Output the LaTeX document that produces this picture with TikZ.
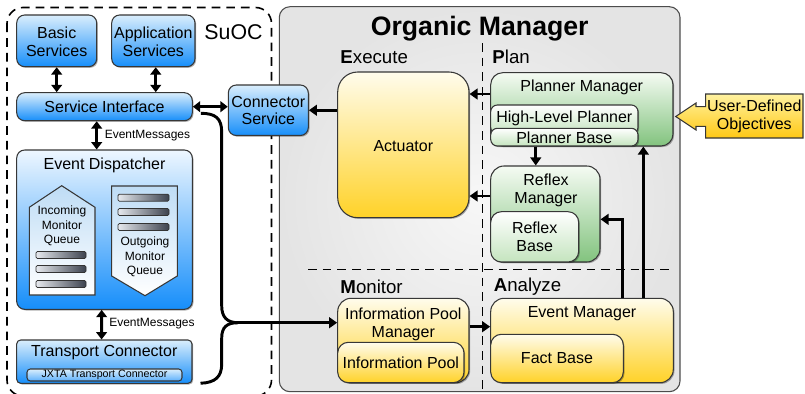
\documentclass[tikz,border=0pt]{standalone}
\usepackage{fontspec}
\setmainfont{Liberation Sans}
\usetikzlibrary{arrows.meta,fit,shadows}
\definecolor{bluetop}{RGB}{218,238,252}
\definecolor{bluebot}{RGB}{22,142,250}
\definecolor{edtop}{RGB}{238,247,255}
\definecolor{yeltop}{RGB}{255,252,236}
\definecolor{yelbot}{RGB}{255,210,40}
\definecolor{grntop}{RGB}{245,251,243}
\definecolor{grnbot}{RGB}{130,195,126}
\definecolor{grnlite}{RGB}{196,228,190}
\definecolor{edgec}{RGB}{55,55,55}
\definecolor{qtop}{RGB}{190,220,245}
\definecolor{bardark}{RGB}{60,66,78}
\definecolor{barlight}{RGB}{230,233,238}
\definecolor{bgin}{RGB}{247,247,247}
\definecolor{bgout}{RGB}{228,228,228}
\definecolor{udotop}{RGB}{255,242,160}
\definecolor{udobot}{RGB}{255,200,20}
\begin{document}
\begin{tikzpicture}[x=0.75pt,y=-0.75pt,
  box/.style={draw=edgec, line width=0.8pt, inner sep=0pt},
  shd/.style={drop shadow={shadow xshift=0.9pt,shadow yshift=-0.9pt,opacity=0.3,fill=black}},
  bluebox/.style={box, shd, top color=bluetop, bottom color=bluebot, rounded corners=6pt},
  edbox/.style={box, shd, top color=edtop, bottom color=bluebot, rounded corners=6pt},
  yelbox/.style={box, shd, top color=yeltop, bottom color=yelbot},
  grnbox/.style={box, shd, top color=grntop, bottom color=grnbot},
  ginbox/.style={box, shd, top color=white, bottom color=grnlite, rounded corners=5pt},
  tx/.style={font=\fontsize{12}{13.3}\selectfont, inner sep=0pt, align=center},
  small/.style={font=\fontsize{9}{10.5}\selectfont, inner sep=0pt},
  qtx/.style={font=\fontsize{9}{10.7}\selectfont, inner sep=0pt, align=center},
  lbl/.style={font=\fontsize{14}{16}\selectfont, inner sep=0pt, anchor=west},
  arr/.style={line width=2.2pt, -{Triangle[length=6pt,width=8pt]}},
  dbl/.style={line width=2.2pt, {Triangle[length=5.5pt,width=8pt]}-{Triangle[length=5.5pt,width=8pt]}},
  dsh/.style={line width=1.1pt, dash pattern=on 6.5pt off 4.5pt},
  queue/.style={draw=edgec, line width=0.8pt, top color=qtop, bottom color=white},
  qbar/.style={draw=black!80, line width=0.6pt, left color=barlight, right color=bardark, rounded corners=1pt},
  bus/.style={line width=2.2pt}
]
\useasboundingbox (0,0) rectangle (805,393);
\clip (0,0) rectangle (805,393);
\fill[white] (0,0) rectangle (805,393);

% SuOC boundary
\draw[dsh, line width=1.2pt, rounded corners=12pt] (7,7.5) rectangle (271.5,396);
\node[font=\fontsize{16}{18}\selectfont, inner sep=0pt] (suoc) at (233.5,32.3) {SuOC};

% Organic Manager background
\node[draw=black!70, line width=0.8pt, rounded corners=8pt, inner sep=0pt,
      inner color=bgin, outer color=bgout, fit={(279.3,6.7) (680,391.7)}] (om) {};
\node[font=\fontsize{20}{22}\selectfont\bfseries, inner sep=0pt] (title) at (479.7,28.3) {Organic Manager};

% separators
\draw[dsh] (482.7,43) -- (482.7,391.7);
\draw[dsh] (308,269.3) -- (671.7,269.3);

\node[lbl] (lexe) at (340.2,57.3) {\textbf{E}xecute};
\node[lbl] (lplan) at (492.2,57.3) {\textbf{P}lan};
\node[lbl] (lmon) at (340.2,286.7) {\textbf{M}onitor};
\node[lbl] (lana) at (493.5,286.7) {\textbf{A}nalyze};

% SuOC nodes
\node[bluebox, fit={(16.7,15) (96.7,66.7)}] (bs) {};
\node[tx] (bst) at (56.7,41.5) {Basic\\Services};
\node[bluebox, fit={(111.7,15) (195,66.7)}] (as) {};
\node[tx] (ast) at (153.3,41.5) {Application\\Services};
\node[bluebox, fit={(16.7,92.7) (192.3,120.7)}] (si) {};
\node[tx] (sit) at (104.5,106.7) {Service Interface};
\node[edbox, fit={(16.7,150) (192.3,309.3)}] (ed) {};
\node[tx] (edt) at (104.5,165) {Event Dispatcher};

% queues
\path[queue] (29.3,295) -- (29.3,207.3) -- (61.7,185.7) -- (95,207.3) -- (95,295) -- cycle;
\node[qtx] (inq) at (62,226) {Incoming\\Monitor\\Queue};
\path[qbar] (36,251.5) rectangle (86,258.5);
\path[qbar] (36,265.5) rectangle (86,272.5);
\path[qbar] (36,280.5) rectangle (86,287.5);
\path[queue] (111.7,186) -- (177.3,186) -- (177.3,276) -- (145,295.7) -- (111.7,276) -- cycle;
\path[qbar] (118,194.2) rectangle (169,201.2);
\path[qbar] (118,208.5) rectangle (169,215.5);
\path[qbar] (118,223.5) rectangle (169,230.5);
\node[qtx] (outq) at (145,257) {Outgoing\\Monitor\\Queue};

\node[bluebox, rounded corners=3pt, fit={(16.7,340) (192,383.3)}] (tc) {};
\node[tx] (tct) at (104.3,352.7) {Transport Connector};
\node[box, top color=bluetop, bottom color=bluebot!70!white, rounded corners=2.5pt,
      fit={(27,369) (182,381)}] (jx) {};
\node[font=\fontsize{8}{9}\selectfont, inner sep=0pt] (jxt) at (104.5,375) {JXTA Transport Connector};

\node[bluebox, fit={(228.3,85) (308.3,135.5)}] (cs) {};
\node[tx] (cst) at (268.3,110.5) {Connector\\Service};

% SuOC connectors
\draw[dbl] (bs.south) -- (bs.south |- si.north);
\draw[dbl] ([xshift=1.8pt]as.south) -- ([xshift=1.8pt]as.south |- si.north);
\draw[dbl] ([xshift=-5.85pt]si.south) -- ([xshift=-5.85pt]ed.north);
\node[small, anchor=west] (em1) at (104.5,136) {EventMessages};
\draw[dbl] ([xshift=-2.1pt]ed.south) -- ([xshift=-2.1pt]tc.north);
\node[small, anchor=west] (em2) at (109,324) {EventMessages};
\draw[dbl] (si.east) -- (si.east -| cs.west);

% Execute
\node[yelbox, rounded corners=15pt, fit={(337.7,72) (469,217.7)}] (act) {};
\node[tx] (actt) at (403.3,146) {Actuator};

% Plan
\node[grnbox, rounded corners=9pt, fit={(490.7,72.7) (673,146)}] (pm) {};
\node[tx] (pmt) at (581.7,87.3) {Planner Manager};
\node[ginbox, fit={(490.7,105) (638,134)}] (hlp) {};
\node[tx] (hlpt) at (564.3,118.5) {High-Level Planner};
\node[ginbox, fit={(490.7,128.3) (638,146)}] (pb) {};
\node[tx] (pbt) at (564.3,137.3) {Planner Base};

\node[grnbox, rounded corners=10pt, fit={(490.7,166) (600,262)}] (rm) {};
\node[tx] (rmt) at (546,190.5) {Reflex\\Manager};
\node[ginbox, rounded corners=8pt, fit={(490.7,211.7) (578.7,262)}] (rb) {};
\node[tx] (rbt) at (534.7,236.7) {Reflex\\Base};

% Monitor
\node[yelbox, rounded corners=10pt, fit={(337.7,298.3) (469,382.7)}] (ipm) {};
\node[tx] (ipmt) at (403.3,324) {Information Pool\\Manager};
\node[yelbox, rounded corners=8pt, fit={(337.7,342.3) (464,382.7)}] (ip) {};
\node[tx] (ipt) at (400.8,362.3) {Information Pool};

% Analyze
\node[yelbox, rounded corners=10pt, fit={(490.7,298.3) (673.3,382.7)}] (em) {};
\node[tx] (emt) at (582,314) {Event Manager};
\node[yelbox, rounded corners=8pt, fit={(490.7,334.3) (623.3,382.7)}] (fb) {};
\node[tx] (fbt) at (557,358.3) {Fact Base};

% User-defined objectives
\path[draw=edgec, line width=0.8pt, top color=udotop, bottom color=udobot]
  (705.7,94) -- (803,94) -- (803,138) -- (705.7,138) -- (705.7,126.3) -- (696,126.3)
  -- (696,130) -- (675.7,116.5) -- (696,103) -- (696,106.7) -- (705.7,106.7) -- cycle;
\node[tx] (udo) at (754.3,116.3) {User-Defined\\Objectives};

% Organic manager connectors
\draw[arr] (act.west |- cs.east) -- (cs.east);
\draw[arr] ([yshift=11.5pt]pm.west) -- ([yshift=11.5pt]pm.west -| act.east);
\draw[arr] ([yshift=13.5pt]rm.west) -- ([yshift=13.5pt]rm.west -| act.east);
\draw[arr] ([xshift=-7.2pt]rm.north |- pb.south) -- ([xshift=-7.2pt]rm.north);
\draw[arr] ([xshift=30.2pt]em.north) |- ([yshift=-4pt]rm.east);
\draw[arr] ([xshift=46pt]em.north) -- ([xshift=46pt]em.north |- pm.south);
\draw[arr] ([yshift=10.35pt]ipm.east) -- ([yshift=10.35pt]ipm.east -| em.west);

% bus from SuOC to monitor
\coordinate (jn) at (238,322.7);
\draw[bus] ([shift={(8,6.6)}]si.east) .. controls (215,113.3) and (221.7,118) .. (221.7,132)
  -- (221.7,306) .. controls (221.7,317) and (227,322.7) .. (jn);
\draw[arr] (jn) -- ([yshift=13.35pt]ipm.west);
\draw[bus] ([shift={(8,-0.6)}]tc.south east) .. controls (215,382.7) and (221.7,377) .. (221.7,364)
  -- (221.7,338) .. controls (221.7,327) and (227,322.7) .. (jn);
\end{tikzpicture}
\end{document}
